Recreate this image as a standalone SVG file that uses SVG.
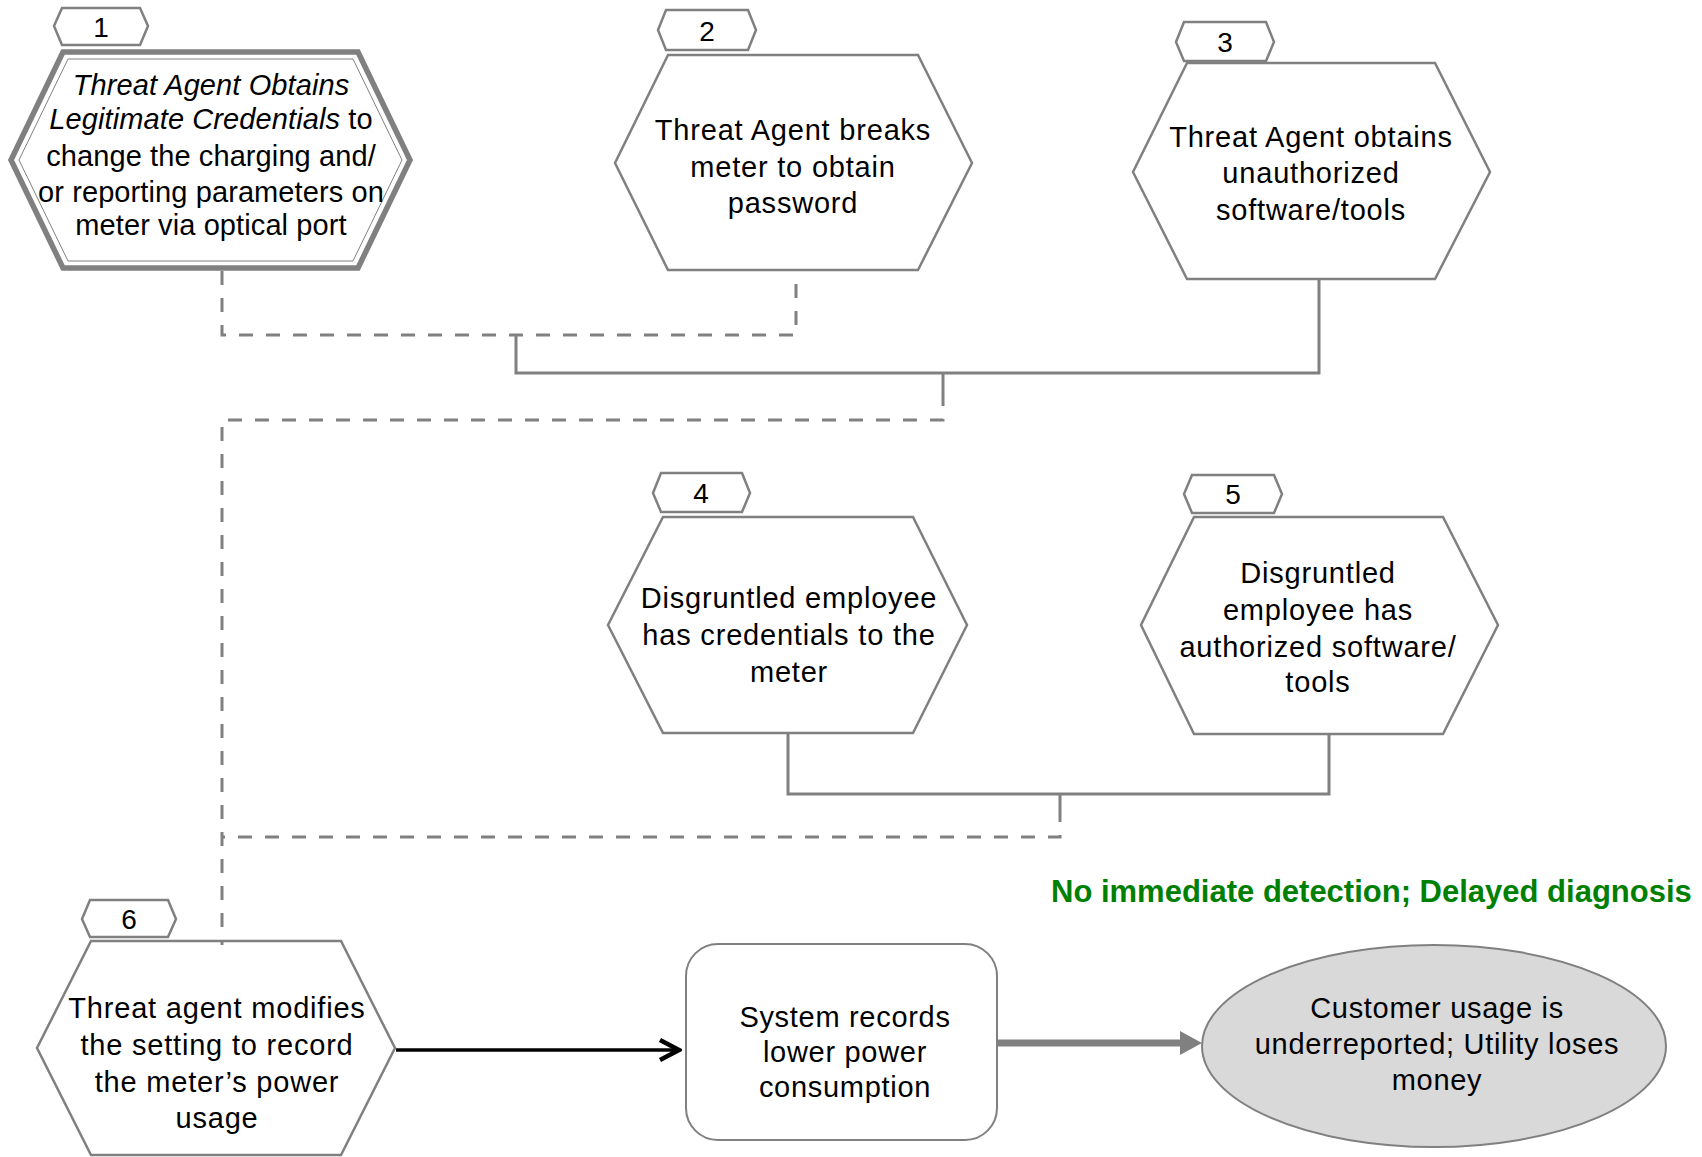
<svg xmlns="http://www.w3.org/2000/svg" width="1702" height="1157" viewBox="0 0 1702 1157">
<style>
text{font-family:"Liberation Sans",Arial,sans-serif;fill:#000;text-anchor:middle}
.t{font-size:29px;letter-spacing:0.8px}
.t1{font-size:29px;letter-spacing:0.1px}
.tb{font-size:29px;letter-spacing:0.7px}
.tag{font-size:28px}
.hex{fill:#fff;stroke:#808080;stroke-width:2.5}
.tagshape{fill:#fff;stroke:#808080;stroke-width:2.5}
.c{fill:none;stroke:#808080;stroke-width:3}
.d{fill:none;stroke:#808080;stroke-width:3;stroke-dasharray:14 13}
.green{font-size:31px;font-weight:bold;fill:#008000;text-anchor:start}
</style>
<defs>
<marker id="openArrow" markerUnits="userSpaceOnUse" viewBox="0 0 24 24" refX="21" refY="12" markerWidth="24" markerHeight="24" orient="auto">
<path d="M2,2 L21,12 L2,22" fill="none" stroke="#000" stroke-width="4.5" stroke-linejoin="miter"/>
</marker>
<marker id="grayTri" markerUnits="userSpaceOnUse" viewBox="0 0 24 24" refX="10" refY="12" markerWidth="24" markerHeight="24" orient="auto">
<path d="M0,0 L22,12 L0,24 Z" fill="#808080"/>
</marker>
</defs>

<g id="node1">
<polygon points="63,52 358,52 410,160 358,268 63,268 11,160" fill="#fff" stroke="#808080" stroke-width="5.5"/>
<polygon points="68,59 353,59 402,160 353,261 68,261 19,160" fill="none" stroke="#808080" stroke-width="1"/>
<polygon class="tagshape" points="54,26 62,8 140,8 148,26 140,45 62,45"/>
<text class="tag" x="101" y="37">1</text>
<text class="t1" x="211" y="95" font-style="italic">Threat Agent Obtains</text>
<text class="t1" x="211" y="129"><tspan font-style="italic">Legitimate Credentials</tspan> to</text>
<text class="t1" x="211" y="166">change the charging and/</text>
<text class="t1" x="211" y="202">or reporting parameters on</text>
<text class="t1" x="211" y="235">meter via optical port</text>
</g>

<g id="node2">
<polygon class="hex" points="668,55 918,55 972,163 918,270 668,270 615,163"/>
<polygon class="tagshape" points="658,30 666,10 748,10 756,30 748,50 666,50"/>
<text class="tag" x="707" y="41">2</text>
<text class="t" x="793" y="140">Threat Agent breaks</text>
<text class="t" x="793" y="177">meter to obtain</text>
<text class="t" x="793" y="213">password</text>
</g>

<g id="node3">
<polygon class="hex" points="1187,63 1435,63 1490,172 1435,279 1187,279 1133,172"/>
<polygon class="tagshape" points="1176,42 1184,22 1266,22 1274,42 1266,61 1184,61"/>
<text class="tag" x="1225" y="52">3</text>
<text class="t" x="1311" y="147">Threat Agent obtains</text>
<text class="t" x="1311" y="183">unauthorized</text>
<text class="t" x="1311" y="220">software/tools</text>
</g>

<g id="node4">
<polygon class="hex" points="663,517 913,517 967,625 913,733 663,733 608,625"/>
<polygon class="tagshape" points="653,493 661,473 742,473 750,493 742,512 661,512"/>
<text class="tag" x="701" y="503">4</text>
<text class="t" x="789" y="608">Disgruntled employee</text>
<text class="t" x="789" y="645">has credentials to the</text>
<text class="t" x="789" y="682">meter</text>
</g>

<g id="node5">
<polygon class="hex" points="1194,517 1443,517 1498,625 1443,734 1194,734 1141,625"/>
<polygon class="tagshape" points="1184,494 1192,475 1274,475 1282,494 1274,513 1192,513"/>
<text class="tag" x="1233" y="504">5</text>
<text class="t" x="1318" y="583">Disgruntled</text>
<text class="t" x="1318" y="620">employee has</text>
<text class="t" x="1318" y="657">authorized software/</text>
<text class="t" x="1318" y="692">tools</text>
</g>

<g id="node6">
<polygon class="hex" points="91,941 341,941 395,1048 341,1155 91,1155 37,1048"/>
<polygon class="tagshape" points="82,919 90,900 168,900 176,919 168,937 90,937"/>
<text class="tag" x="129" y="929">6</text>
<text class="t" x="217" y="1018">Threat agent modifies</text>
<text class="t" x="217" y="1055">the setting to record</text>
<text class="t" x="217" y="1092">the meter’s power</text>
<text class="t" x="217" y="1128">usage</text>
</g>

<g id="node7">
<rect x="686" y="944" width="311" height="196" rx="32" ry="32" fill="#fff" stroke="#808080" stroke-width="2"/>
<text class="tb" x="845" y="1027">System records</text>
<text class="tb" x="845" y="1062">lower power</text>
<text class="tb" x="845" y="1097">consumption</text>
</g>

<g id="node8">
<ellipse cx="1434" cy="1046" rx="232" ry="101" fill="#d9d9d9" stroke="#808080" stroke-width="2"/>
<text class="tb" x="1437" y="1018">Customer usage is</text>
<text class="tb" x="1437" y="1054">underreported; Utility loses</text>
<text class="tb" x="1437" y="1090">money</text>
</g>

<g id="label">
<text class="green" x="1051" y="902">No immediate detection; Delayed diagnosis</text>
</g>

<g id="connectors">
<path class="d" d="M222,271 V335 H796 V272"/>
<path class="c" d="M516,335 V373 H1319 V280"/>
<path class="c" d="M943,373 V392"/>
<path class="d" d="M943,392 V420 H222 V945"/>
<path class="c" d="M788,734 V794 H1329 V735"/>
<path class="c" d="M1060,794 V808"/>
<path class="d" d="M1060,808 V837 H222"/>
<path d="M396,1050 H679" fill="none" stroke="#000" stroke-width="3.5" marker-end="url(#openArrow)"/>
<path d="M998,1043 H1190" fill="none" stroke="#808080" stroke-width="7" marker-end="url(#grayTri)"/>
</g>
</svg>
